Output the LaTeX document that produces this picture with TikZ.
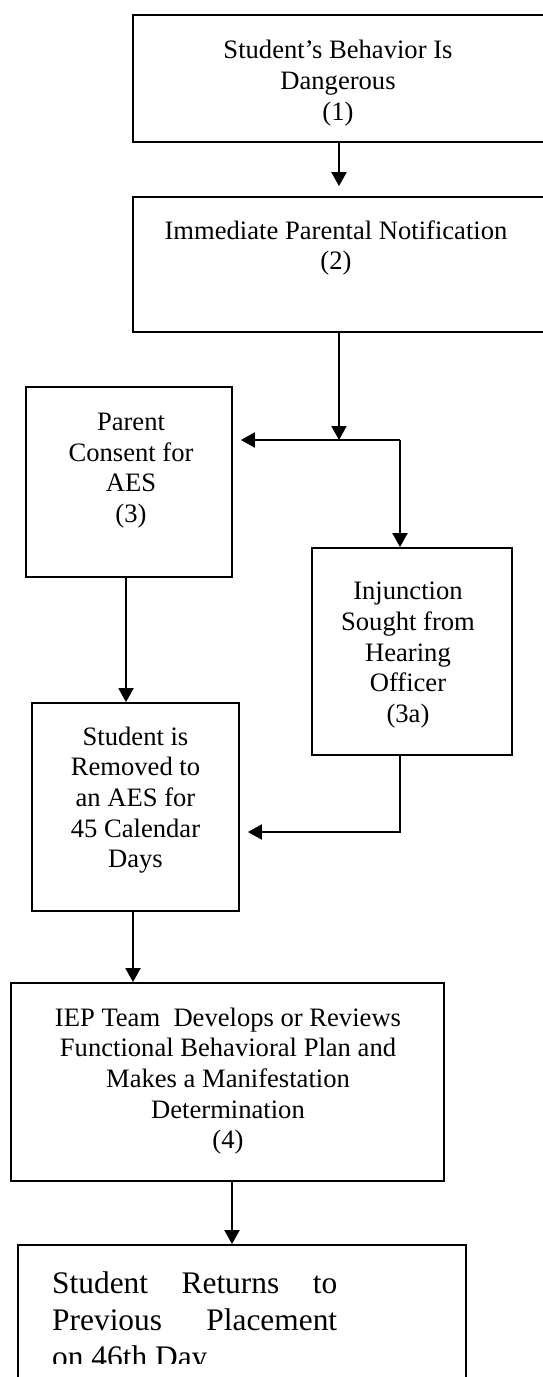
\documentclass[tikz,border=0pt]{standalone}
\usepackage{fontspec}
\setmainfont{Liberation Serif}
\usetikzlibrary{arrows.meta}
\begin{document}
\begin{tikzpicture}[x=1pt,y=-1pt,
  box/.style={draw, line width=1.8pt, rectangle, inner sep=0pt},
  txt/.style={align=center, inner sep=0pt, font=\fontsize{26.6}{30.6}\selectfont},
  bigtxt/.style={align=left, inner sep=0pt, anchor=north west, font=\fontsize{31.4}{37}\selectfont},
  conn/.style={line width=2pt, -{Triangle[length=14pt,width=15pt]}}]
\clip (0,0) rectangle (543,1377);
\fill[white] (0,0) rectangle (543,1377);
% boxes
\node[box, minimum width=412pt, minimum height=127pt] (b1) at (339,78.5) {};
\node[box, minimum width=412pt, minimum height=135pt] (b2) at (339,264.5) {};
\node[box, minimum width=206pt, minimum height=190pt] (b3) at (129,482) {};
\node[box, minimum width=200pt, minimum height=207pt] (b3a) at (412,651.5) {};
\node[box, minimum width=207pt, minimum height=208pt] (b5) at (135.5,807) {};
\node[box, minimum width=433pt, minimum height=198pt] (b4) at (227.5,1082) {};
\node[box, minimum width=448pt, minimum height=155pt] (b6) at (242,1322.5) {};
% texts
\node[txt] (t1) at (338,83.4) {\strut Student’s Behavior Is\\Dangerous\\(1)\strut};
\node[txt] (t2) at (336,248.4) {\strut Immediate Parental Notification\\(2)\strut};
\node[txt] (t3) at (131,470.4) {\strut Parent\\Consent for\\AES\\(3)\strut};
\node[txt] (t3a) at (408,654.9) {\strut Injunction\\Sought from\\Hearing\\Officer\\(3a)\strut};
\node[txt] (t5) at (135.5,800.4) {\strut Student is\\Removed to\\an AES for\\45 Calendar\\Days\strut};
\node[txt] (t4) at (228,1081.4) {\strut IEP Team\ \ Develops or Reviews\\Functional Behavioral Plan and\\Makes a Manifestation\\Determination\\(4)\strut};
\begin{scope}
\clip (18,1245) rectangle (466,1363);
\node[bigtxt] (t6) at (52,1267.1) {\makebox[285pt]{\strut Student\hfill Returns\hfill to}\\\makebox[285pt]{Previous\hfill Placement}\\on 46th Day};
\end{scope}
% connectors
\coordinate (j1) at (339,440);
\coordinate (j2) at (400,440);
\coordinate (k) at (400,832);
\coordinate (xa) at (126,0);
\coordinate (xb) at (133,0);
\coordinate (xc) at (232,0);
\draw[conn, shorten >=10pt] (b1.south -| j1) -- (b2.north -| j1);
\draw[conn] (b2.south -| j1) -- (j1);
\draw[conn, shorten >=8pt] (j2) -- (b3.east |- j2);
\draw[conn] (j2) -- (b3a.north -| j2);
\draw[conn] (b3.south -| xa) -- (b5.north -| xa);
\draw[conn, shorten >=8pt] (b3a.south -| k) -- (k) -- (b5.east |- k);
\draw[conn] (b5.south -| xb) -- (b4.north -| xb);
\draw[conn] (b4.south -| xc) -- (b6.north -| xc);
\end{tikzpicture}
\end{document}
